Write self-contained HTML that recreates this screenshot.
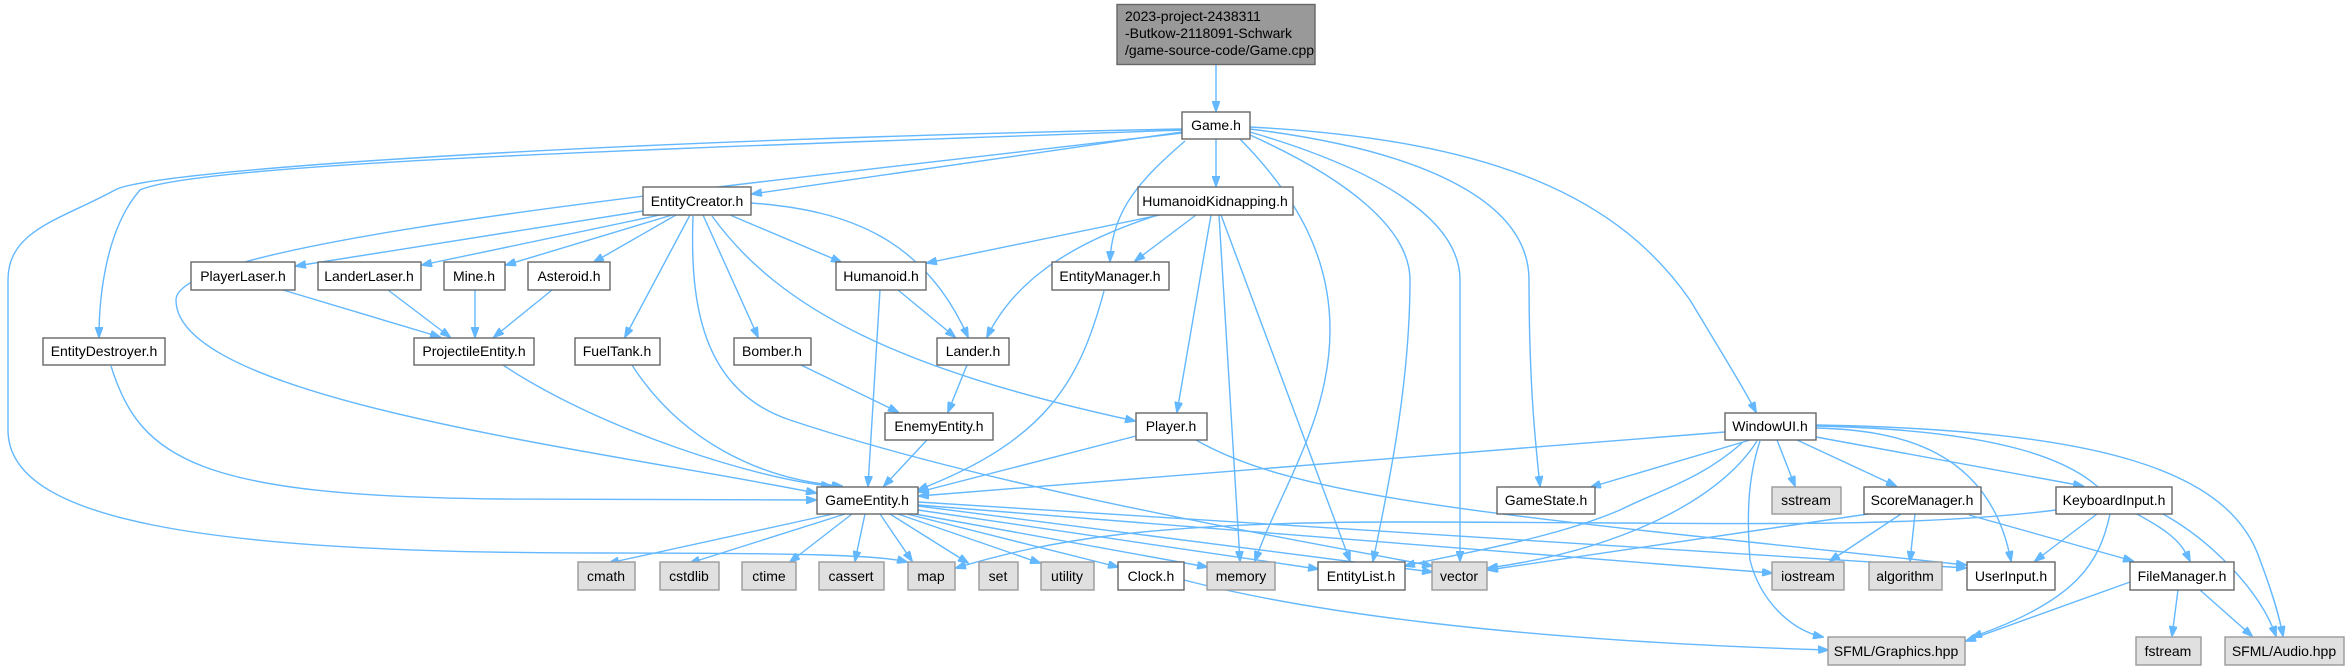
<!DOCTYPE html>
<html><head><meta charset="utf-8"><style>
html,body{margin:0;padding:0;background:#fff;width:2349px;height:667px;overflow:hidden}
svg{display:block}
text{font-family:"Liberation Sans",Arial,sans-serif;font-size:14px;fill:#000}
.e{fill:none;stroke:#63b8ff;stroke-width:1.4}
.w{fill:#fff;stroke:#666;stroke-width:1.4}
.g{fill:#e0e0e0;stroke:#999;stroke-width:1.4}
</style></head><body>
<svg width="2349" height="667" viewBox="0 0 2349 667" xmlns="http://www.w3.org/2000/svg">
<defs><marker id="a" markerWidth="11" markerHeight="8" refX="10" refY="4" orient="auto" markerUnits="userSpaceOnUse"><path d="M0,0 L11,4 L0,8 z" fill="#63b8ff" stroke="#63b8ff"/></marker></defs>
<g class="e" marker-end="url(#a)">
<path d="M1216,65 L1216,111"/>
<path d="M1182,132 L752,194"/>
<path d="M1216,139 L1216,186"/>
<path d="M1185,141 C1140,180 1112,210 1110,261"/>
<path d="M1182,130 C700,148 200,162 140,190 C105,230 99,300 99,337"/>
<path d="M1182,129 C600,140 150,170 115,190 C60,220 8,230 8,280 L8,430 C8,520 200,553 600,553 C800,553 880,555 907,562"/>
<path d="M1182,133 C700,190 176,240 176,300 C176,400 600,450 816,493"/>
<path d="M1240,139 C1300,200 1330,260 1330,330 C1330,420 1280,490 1255,561"/>
<path d="M1250,135 C1350,180 1410,230 1410,280 C1410,380 1390,480 1373,561"/>
<path d="M1250,132 C1380,170 1460,220 1460,280 L1460,561"/>
<path d="M1250,129 C1420,150 1529,200 1529,280 C1529,380 1535,440 1540,486"/>
<path d="M1250,127 C1500,140 1620,200 1690,300 C1720,350 1745,390 1756,412"/>
<path d="M643,211 L296,266"/>
<path d="M660,215 L422,265"/>
<path d="M672,215 L506,265"/>
<path d="M676,215 L594,262"/>
<path d="M690,215 L625,337"/>
<path d="M703,215 L758,337"/>
<path d="M730,215 L841,262"/>
<path d="M751,203 C850,210 925,240 968,337"/>
<path d="M712,216 C780,310 900,370 1135,421"/>
<path d="M693,216 C690,300 700,390 790,420 C1000,490 1300,540 1432,566"/>
<path d="M1160,215 L927,263"/>
<path d="M1155,216 C1056,248 1010,290 987,337"/>
<path d="M1196,215 L1135,261"/>
<path d="M1211,215 L1177,412"/>
<path d="M1219,215 L1240,561"/>
<path d="M1221,215 L1350,561"/>
<path d="M283,290 L440,337"/>
<path d="M388,290 L450,337"/>
<path d="M475,290 L475,337"/>
<path d="M552,290 L494,337"/>
<path d="M898,290 L955,337"/>
<path d="M880,290 L868,486"/>
<path d="M1104,291 C1080,380 1048,440 918,490"/>
<path d="M111,366 C140,460 200,496 500,499 C600,500 700,500 816,500"/>
<path d="M503,365 C600,430 760,480 831,486"/>
<path d="M632,365 C680,440 760,480 842,486"/>
<path d="M801,365 L898,412"/>
<path d="M967,365 L948,412"/>
<path d="M927,440 L884,486"/>
<path d="M1136,436 L919,492"/>
<path d="M1196,440 C1300,500 1500,515 1966,565"/>
<path d="M1725,432 L919,496"/>
<path d="M1750,440 L1591,487"/>
<path d="M1742,443 C1700,480 1660,490 1620,510 C1550,540 1450,555 1405,566"/>
<path d="M1757,441 C1720,500 1620,550 1488,568"/>
<path d="M1777,440 L1795,486"/>
<path d="M1797,440 L1896,486"/>
<path d="M1816,437 L2083,486"/>
<path d="M1816,428 C1900,430 1990,450 2011,561"/>
<path d="M1816,426 C2000,430 2080,460 2110,500 C2170,530 2180,540 2190,561"/>
<path d="M1816,425 C2100,430 2230,470 2260,560 C2275,600 2280,620 2283,636"/>
<path d="M1760,441 C1747,480 1747,520 1750,560 C1760,600 1790,630 1823,637"/>
<path d="M1868,514 L1488,570"/>
<path d="M1901,514 L1830,561"/>
<path d="M1915,514 L1910,561"/>
<path d="M1969,515 L2133,561"/>
<path d="M2056,510 C1900,530 1700,522 1400,522 C1150,522 1050,540 956,568"/>
<path d="M2097,514 L2035,561"/>
<path d="M2110,514 C2100,560 2080,600 1972,637"/>
<path d="M2163,514 C2210,540 2260,590 2276,636"/>
<path d="M2130,582 L1966,641"/>
<path d="M2178,590 L2172,636"/>
<path d="M2200,590 L2252,636"/>
<path d="M833,514 L609,563"/>
<path d="M845,514 L690,563"/>
<path d="M852,514 L790,562"/>
<path d="M865,514 L855,561"/>
<path d="M880,514 L912,561"/>
<path d="M890,514 L968,563"/>
<path d="M898,514 L1040,563"/>
<path d="M907,514 L1118,567"/>
<path d="M915,514 L1207,567"/>
<path d="M918,510 L1318,569"/>
<path d="M918,506 L1432,572"/>
<path d="M918,505 L1772,573"/>
<path d="M918,502 L1966,568"/>
<path d="M1184,580 C1300,610 1500,640 1828,650"/>
</g>
<rect x="1117" y="4.5" width="198" height="60" fill="#999" stroke="#666" stroke-width="1.4"/>
<text x="1125" y="21">2023-project-2438311</text>
<text x="1125" y="38">-Butkow-2118091-Schwark</text>
<text x="1125" y="55">/game-source-code/Game.cpp</text>
<g>
<rect class="w" x="1182" y="112" width="68" height="27"/><text x="1216" y="130" text-anchor="middle">Game.h</text>
<rect class="w" x="643" y="187" width="108" height="28"/><text x="697" y="206" text-anchor="middle">EntityCreator.h</text>
<rect class="w" x="1138" y="187" width="155" height="28"/><text x="1215" y="206" text-anchor="middle">HumanoidKidnapping.h</text>
<rect class="w" x="191" y="262" width="104" height="28"/><text x="243" y="281" text-anchor="middle">PlayerLaser.h</text>
<rect class="w" x="318" y="262" width="103" height="28"/><text x="369" y="281" text-anchor="middle">LanderLaser.h</text>
<rect class="w" x="444" y="262" width="61" height="28"/><text x="474" y="281" text-anchor="middle">Mine.h</text>
<rect class="w" x="528" y="262" width="82" height="28"/><text x="569" y="281" text-anchor="middle">Asteroid.h</text>
<rect class="w" x="836" y="262" width="90" height="28"/><text x="881" y="281" text-anchor="middle">Humanoid.h</text>
<rect class="w" x="1052" y="262" width="117" height="28"/><text x="1110" y="281" text-anchor="middle">EntityManager.h</text>
<rect class="w" x="43" y="338" width="122" height="27"/><text x="104" y="356" text-anchor="middle">EntityDestroyer.h</text>
<rect class="w" x="414" y="338" width="120" height="27"/><text x="474" y="356" text-anchor="middle">ProjectileEntity.h</text>
<rect class="w" x="575" y="338" width="85" height="27"/><text x="617" y="356" text-anchor="middle">FuelTank.h</text>
<rect class="w" x="734" y="338" width="77" height="27"/><text x="772" y="356" text-anchor="middle">Bomber.h</text>
<rect class="w" x="937" y="338" width="72" height="27"/><text x="973" y="356" text-anchor="middle">Lander.h</text>
<rect class="w" x="885" y="413" width="108" height="27"/><text x="939" y="431" text-anchor="middle">EnemyEntity.h</text>
<rect class="w" x="1136" y="413" width="71" height="27"/><text x="1171" y="431" text-anchor="middle">Player.h</text>
<rect class="w" x="1725" y="413" width="91" height="27"/><text x="1770" y="431" text-anchor="middle">WindowUI.h</text>
<rect class="w" x="817" y="487" width="101" height="27"/><text x="867" y="505" text-anchor="middle">GameEntity.h</text>
<rect class="w" x="1497" y="487" width="98" height="27"/><text x="1546" y="505" text-anchor="middle">GameState.h</text>
<rect class="g" x="1772" y="487" width="69" height="27"/><text x="1806" y="505" text-anchor="middle">sstream</text>
<rect class="w" x="1864" y="487" width="117" height="27"/><text x="1922" y="505" text-anchor="middle">ScoreManager.h</text>
<rect class="w" x="2056" y="487" width="116" height="27"/><text x="2114" y="505" text-anchor="middle">KeyboardInput.h</text>
<rect class="g" x="578" y="562" width="57" height="28"/><text x="606" y="581" text-anchor="middle">cmath</text>
<rect class="g" x="660" y="562" width="59" height="28"/><text x="689" y="581" text-anchor="middle">cstdlib</text>
<rect class="g" x="742" y="562" width="54" height="28"/><text x="769" y="581" text-anchor="middle">ctime</text>
<rect class="g" x="819" y="562" width="65" height="28"/><text x="851" y="581" text-anchor="middle">cassert</text>
<rect class="g" x="908" y="562" width="47" height="28"/><text x="931" y="581" text-anchor="middle">map</text>
<rect class="g" x="979" y="562" width="39" height="28"/><text x="998" y="581" text-anchor="middle">set</text>
<rect class="g" x="1041" y="562" width="53" height="28"/><text x="1067" y="581" text-anchor="middle">utility</text>
<rect class="w" x="1118" y="562" width="66" height="28"/><text x="1151" y="581" text-anchor="middle">Clock.h</text>
<rect class="g" x="1207" y="562" width="68" height="28"/><text x="1241" y="581" text-anchor="middle">memory</text>
<rect class="w" x="1318" y="562" width="87" height="28"/><text x="1361" y="581" text-anchor="middle">EntityList.h</text>
<rect class="g" x="1432" y="562" width="55" height="28"/><text x="1459" y="581" text-anchor="middle">vector</text>
<rect class="g" x="1772" y="562" width="72" height="28"/><text x="1808" y="581" text-anchor="middle">iostream</text>
<rect class="g" x="1869" y="562" width="73" height="28"/><text x="1905" y="581" text-anchor="middle">algorithm</text>
<rect class="w" x="1967" y="562" width="88" height="28"/><text x="2011" y="581" text-anchor="middle">UserInput.h</text>
<rect class="w" x="2130" y="562" width="104" height="28"/><text x="2182" y="581" text-anchor="middle">FileManager.h</text>
<rect class="g" x="1828" y="637" width="137" height="28"/><text x="1896" y="656" text-anchor="middle">SFML/Graphics.hpp</text>
<rect class="g" x="2136" y="637" width="65" height="28"/><text x="2168" y="656" text-anchor="middle">fstream</text>
<rect class="g" x="2225" y="637" width="119" height="28"/><text x="2284" y="656" text-anchor="middle">SFML/Audio.hpp</text>
</g>
</svg>
</body></html>
